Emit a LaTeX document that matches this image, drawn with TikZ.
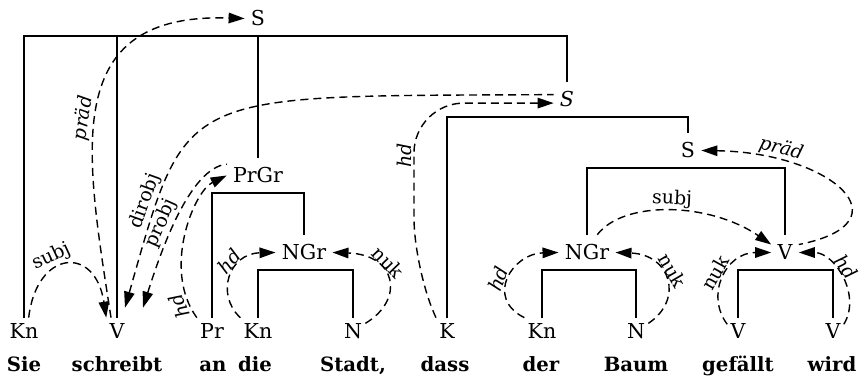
\documentclass[tikz,border=0pt]{standalone}
\usepackage{fontspec}
\setmainfont{DejaVu Serif}
\usetikzlibrary{arrows.meta}

\tikzset{
  cat/.style={anchor=base,font=\fontsize{11.7}{14}\selectfont,
    text height=0.3cm,text depth=0pt,inner xsep=0.06cm,inner ysep=0.1cm},
  phr/.style={cat,inner xsep=0.12cm,inner ysep=0.2cm},
  word/.style={anchor=base,font=\fontsize{11.2}{14}\selectfont\bfseries,inner sep=0pt},
  tree/.style={line width=1.1pt},
  dep/.style={line width=0.8pt,dash pattern=on 0.16cm off 0.1cm,
    -{Triangle[length=0.32cm,width=0.21cm]}},
  deprev/.style={dep,{Triangle[length=0.32cm,width=0.21cm]}-},
  rel/.style={font=\fontsize{10.8}{12}\selectfont,inner sep=1pt,sloped,above}
}

\begin{document}
\begin{tikzpicture}[x=0.02cm,y=-0.02cm]
  \useasboundingbox (0,0) rectangle (866,378);

  % Words
  \foreach \x/\w [count=\i] in {24/Sie, 117/schreibt, 213/an, 255/die,
      353/{Stadt,}, 445/dass, 541/der, 636/Baum, 738/gefällt, 832/wird}
    \node[word] (w\i) at (\x,372) {\w};

  % Categories of the words
  \node[cat] (kn1) at (24,338) {Kn};
  \node[cat] (v1)  at (117,338) {V};
  \node[cat] (pr)  at (212,338) {Pr};
  \node[cat] (kn2) at (258,338) {Kn};
  \node[cat] (n1)  at (353,338) {N};
  \node[cat] (k)   at (447,338) {K};
  \node[cat] (kn3) at (542,338) {Kn};
  \node[cat] (n2)  at (636,338) {N};
  \node[cat] (v2)  at (738,338) {V};
  \node[cat] (v3)  at (833,338) {V};

  % Phrases
  \node[phr] (s1)   at (258,26)  {S};
  \node[phr] (s2)   at (567,107) {\textit{S}};
  \node[phr] (s3)   at (688,158) {S};
  \node[phr] (prgr) at (258,183) {PrGr};
  \node[phr] (ngr1) at (304,260) {NGr};
  \node[phr] (ngr2) at (587,260) {NGr};
  \node[phr] (v4)   at (785,260) {V};

  % Tree brackets
  \draw[tree] (kn1.north) |- (s1.south) -| (s2.north);
  \draw[tree] (v1.north) -- (v1.north |- s1.south);
  \draw[tree] (prgr.north) -- (prgr.north |- s1.south);
  \draw[tree] (pr.north) |- (prgr.south) -| (ngr1.north);
  \draw[tree] (kn2.north) |- (ngr1.south) -| (n1.north);
  \draw[tree] (k.north) |- (s2.south) -| (s3.north);
  \draw[tree] (ngr2.north) |- (s3.south) -| (v4.north);
  \draw[tree] (kn3.north) |- (ngr2.south) -| (n2.north);
  \draw[tree] (v2.north) |- (v4.south) -| (v3.north);

  % Dependencies, main clause
  \draw[dep] (kn1.70) .. controls +(8,-68) and +(-11,-73) .. (v1.north west)
    node[rel,pos=0.4] {subj};
  \draw[dep] (v1.115) .. controls +(-26,-168) and +(-185,-6) .. (s1.west)
    node[rel,pos=0.45] {\textit{präd}};
  \draw[deprev] ([shift={(8,-10)}]v1.north) .. controls +(63,-221) and +(-378,2) .. (s2.160)
    node[rel,pos=0.19] {dirobj};
  \draw[deprev] ([shift={(26,-10)}]v1.north) .. controls +(18,-57) and +(-37,4) .. (prgr.160)
    node[rel,pos=0.43] {probj};
  \draw[dep] (pr.north west) .. controls +(-35,-48) and +(-33,16) .. (prgr.west)
    node[rel,pos=0.1,allow upside down] {\textit{hd}};
  \draw[dep] (kn2.north west) .. controls +(-25,-23) and +(-47,1) .. (ngr1.west)
    node[rel,pos=0.62] {\textit{hd}};
  \draw[dep] (n1.30) .. controls +(40,-24) and +(64,2) .. (ngr1.east)
    node[rel,pos=0.63] {nuk};

  % Dependencies, dass-clause
  \draw[dep,rounded corners=1cm] (k.north west) -- ++(-22,-50) |- (s2.195)
    node[rel,pos=0.34] {\textit{hd}};
  \draw[dep] (kn3.north west) .. controls +(-40,-20) and +(-46,1) .. (ngr2.west)
    node[rel,pos=0.45] {\textit{hd}};
  \draw[dep] (n2.30) .. controls +(36,-24) and +(55,2) .. (ngr2.east)
    node[rel,pos=0.55] {nuk};
  \draw[dep] (v2.150) .. controls +(-22,-29) and +(-46,0) .. (v4.west)
    node[rel,pos=0.5] {nuk};
  \draw[dep] (v3.30) .. controls +(18,-29) and +(36,0) .. (v4.east)
    node[rel,pos=0.55] {\textit{hd}};
  \draw[dep] (ngr2.60) .. controls +(27,-35) and +(-61,-42) .. (v4.150)
    node[rel,pos=0.5] {subj};
  \draw[deprev] (s3.east) .. controls +(130,2) and +(111,-22) .. (v4.30)
    node[rel,pos=0.22] {\textit{präd}};

\end{tikzpicture}
\end{document}
